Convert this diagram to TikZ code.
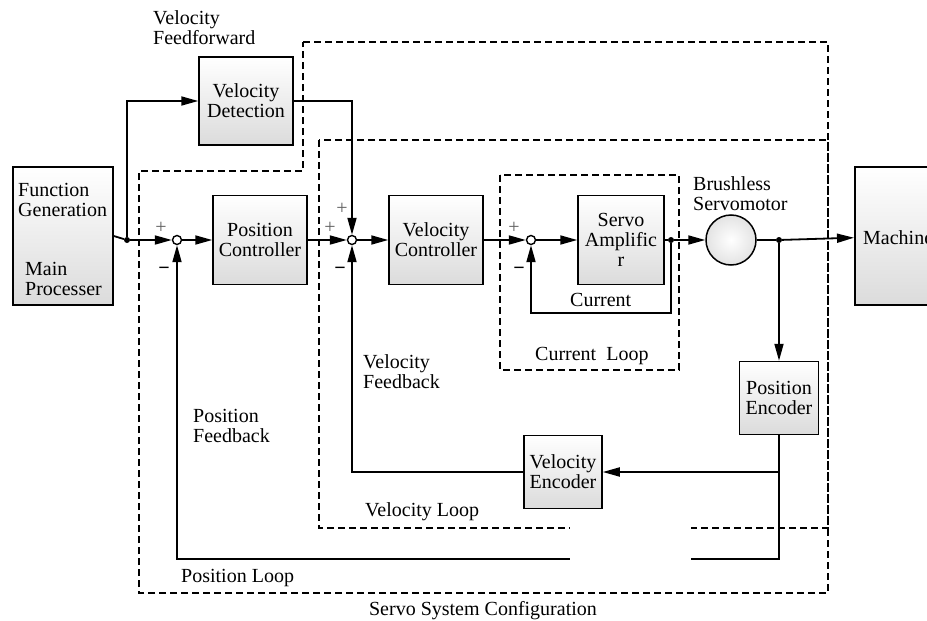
\documentclass[tikz,border=0pt]{standalone}
\usepackage{fontspec}
\setmainfont{Liberation Serif}
\usetikzlibrary{arrows.meta}

\tikzset{
  line/.style={line width=1.8pt},
  arr/.style={line, -{Triangle[length=17pt,width=9pt]}},
  blk/.style={draw, line width=1.5pt, top color=white, bottom color=gray!28,
    align=center, inner sep=0pt},
  sumc/.style={circle, draw, line width=1.4pt, fill=white, inner sep=0pt, minimum size=9pt},
  dot/.style={circle, fill, inner sep=0pt, minimum size=6pt},
  looprect/.style={line width=1.4pt, dash pattern=on 7pt off 4pt},
  lbl/.style={align=left, anchor=west, inner sep=0pt},
  sgn/.style={inner sep=0pt, font=\fontsize{20}{20}\selectfont}
}

\begin{document}
\begin{tikzpicture}[x=1pt, y=-1pt, font=\fontsize{20}{20}\selectfont]
\useasboundingbox (0,0) rectangle (927,621);
\clip (0,0) rectangle (927,621);

% blocks
\node[blk, minimum width=100pt, minimum height=138pt] (fgen) at (63,236) {};
\node[blk, minimum width=94pt, minimum height=88pt] (vdet) at (246,101) {Velocity\\Detection};
\node[blk, minimum width=94pt, minimum height=89pt] (pctrl) at (260,240) {Position\\Controller};
\node[blk, minimum width=94pt, minimum height=89pt] (vctrl) at (436,240) {Velocity\\Controller};
\node[blk, minimum width=86pt, minimum height=89pt] (samp) at (621,240) {Servo\\Amplific\\r};
\node[blk, minimum width=79pt, minimum height=73pt] (penc) at (779,398) {Position\\Encoder};
\node[blk, minimum width=78pt, minimum height=73pt] (venc) at (563,472) {Velocity\\Encoder};
\node[blk, minimum width=110pt, minimum height=138pt, anchor=west] (mach) at (854,236) {};
\node[circle, draw, line width=1.5pt, inner color=white, outer color=gray!22,
  minimum size=50pt, inner sep=0pt] (motor) at (731,240) {};

% summing points and branch points
\node[sumc] (sum1) at (177,240) {};
\node[sumc] (sum2) at (352,240) {};
\node[sumc] (sum3) at (531,240) {};
\node[dot] (d1) at (127,240) {};
\node[dot] (d2) at (671,240) {};
\node[dot] (d3) at (779,240) {};
\coordinate (cfb) at (531,313);
\coordinate (vb) at (779,472);
\coordinate (pfb) at (779,559);

% signals
\draw[line] (fgen.east) -- (d1);
\draw[arr] (d1) -- (sum1);
\draw[arr] (d1) |- (vdet);
\draw[arr] (sum1) -- (pctrl);
\draw[arr] (pctrl) -- (sum2);
\draw[arr] (vdet.east) -| (sum2);
\draw[arr] (sum2) -- (vctrl);
\draw[arr] (vctrl) -- (sum3);
\draw[arr] (sum3) -- (samp);
\draw[line] (samp.east) -- (d2);
\draw[arr] (d2) -- (motor);
\draw[line] (motor) -- (d3);
\draw[arr] (d3) -- (mach);
\draw[arr] (d3) -- (penc);
\draw[arr] (d2) |- (cfb) -- (sum3);
\draw[arr] (penc.south) -- (pfb) -| (sum1);
\draw[arr] (vb) -- (venc);
\draw[arr] (venc) -| (sum2);

% loops
\draw[looprect] (303,42) -- (828,42) -- (828,593) -- (139,593) -- (139,171) -- (303,171) -- cycle;
\draw[looprect] (319,140) rectangle (828,528);
\draw[looprect] (500,175) rectangle (679,370);
\fill[white] (570,518) rectangle (691,566);

% signs
\node[sgn, text=gray!75!black] at (161,228) {+};
\node[sgn] at (164,271) {\textbf{−}};
\node[sgn, text=gray!75!black] at (342,209) {+};
\node[sgn, text=gray!75!black] at (330,228) {+};
\node[sgn] at (340,271) {\textbf{−}};
\node[sgn, text=gray!75!black] at (514,228) {+};
\node[sgn] at (519,271) {\textbf{−}};

% labels
\node[lbl] (fgenA) at (18,200) {Function\\Generation};
\node[lbl] (fgenB) at (25,279) {Main\\Processer};
\node[lbl] (machT) at (863,238) {Machine};
\node[lbl] (vffT) at (153,28) {Velocity\\Feedforward};
\node[lbl] (motT) at (693,194) {Brushless\\Servomotor};
\node[lbl] (curT) at (570,300) {Current};
\node[lbl] (curL) at (535,356) {Current\ \ Loop};
\node[lbl] (vfbT) at (363,372) {Velocity\\Feedback};
\node[lbl] (pfbT) at (193,426) {Position\\Feedback};
\node[lbl] (vloopT) at (365,512) {Velocity Loop};
\node[lbl] (ploopT) at (181,578) {Position Loop};
\node[inner sep=0pt] (sysT) at (483,611) {Servo System Configuration};
\end{tikzpicture}
\end{document}
